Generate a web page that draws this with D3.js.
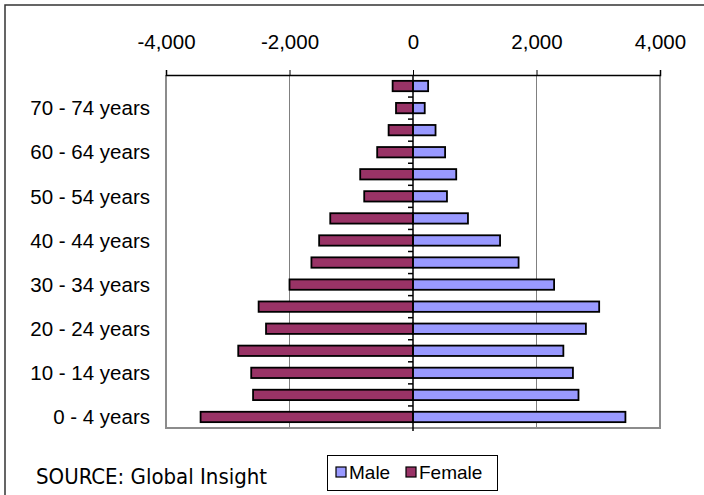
<!DOCTYPE html>
<html>
<head>
<meta charset="utf-8">
<script src="https://cdn.jsdelivr.net/npm/d3@7"></script>
<style>
  html, body { margin: 0; padding: 0; background: #fff; }
  svg { display: block; }
</style>
</head>
<body>
<svg id="chart" width="704" height="495"></svg>
<script>
// Population by age group (thousands), bottom group first
const ageGroups = [
  "0 - 4 years", "5 - 9 years", "10 - 14 years", "15 - 19 years",
  "20 - 24 years", "25 - 29 years", "30 - 34 years", "35 - 39 years",
  "40 - 44 years", "45 - 49 years", "50 - 54 years", "55 - 59 years",
  "60 - 64 years", "65 - 69 years", "70 - 74 years", "75+ years"
];
const maleValues = [3440, 2680, 2590, 2435, 2800, 3015, 2285, 1710,
                    1410, 890, 550, 700, 520, 365, 190, 245];
const femaleValues = [3440, 2590, 2620, 2830, 2380, 2500, 2000, 1645,
                      1520, 1340, 790, 855, 580, 395, 275, 330];
const xTicks = [-4000, -2000, 0, 2000, 4000];
const seriesNames = ["Male", "Female"];
const seriesColors = ["#9999ff", "#993366"];

const svg = d3.select("#chart");
const plot = { left: 166, right: 660, top: 75, bottom: 428 };
const sans = "'Liberation Sans', Arial, sans-serif";

// Chart frame
svg.append("rect")
  .attr("x", 5).attr("y", 5).attr("width", 720).attr("height", 520)
  .attr("fill", "#fff").attr("stroke", "#333").attr("stroke-width", 1.5);

const x = d3.scaleLinear().domain([-4000, 4000]).range([plot.left, plot.right]);
const y = d3.scaleBand().domain(ageGroups.slice().reverse())
  .range([plot.top, plot.bottom]).paddingInner(0.53).paddingOuter(0.265);
const yEdge = d3.scaleBand().domain(ageGroups.slice().reverse())
  .range([plot.top, plot.bottom]);

// Vertical gridlines
svg.append("g").selectAll("line")
  .data(xTicks.filter(v => v !== 0 && Math.abs(v) !== 4000))
  .join("line")
  .attr("x1", d => x(d)).attr("x2", d => x(d))
  .attr("y1", plot.top).attr("y2", plot.bottom)
  .attr("stroke", "#808080").attr("stroke-width", 1);

// Plot area border (left, right, bottom)
svg.append("path")
  .attr("d", `M${plot.left},${plot.top}V${plot.bottom}H${plot.right}V${plot.top}`)
  .attr("fill", "none").attr("stroke", "#8c8c8c").attr("stroke-width", 2);

// Bars: female to the left of zero, male to the right
const bars = svg.append("g");
bars.selectAll("rect.female")
  .data(ageGroups.map((g, i) => ({ g, v: femaleValues[i] })))
  .join("rect").attr("class", "female")
  .attr("x", d => x(-d.v)).attr("width", d => x(0) - x(-d.v))
  .attr("y", d => y(d.g)).attr("height", y.bandwidth())
  .attr("fill", seriesColors[1]).attr("stroke", "#000").attr("stroke-width", 1.8);
bars.selectAll("rect.male")
  .data(ageGroups.map((g, i) => ({ g, v: maleValues[i] })))
  .join("rect").attr("class", "male")
  .attr("x", x(0)).attr("width", d => x(d.v) - x(0))
  .attr("y", d => y(d.g)).attr("height", y.bandwidth())
  .attr("fill", seriesColors[0]).attr("stroke", "#000").attr("stroke-width", 1.8);

// Top value axis
const fmt = d3.format(",");
const xAxis = d3.axisTop(x).tickValues(xTicks).tickSize(5)
  .tickFormat(d => fmt(d).replace("\u2212", "-"));
const gx = svg.append("g").attr("transform", `translate(0,${plot.top})`).call(xAxis);
gx.select(".domain").attr("stroke", "#000").attr("stroke-width", 1.5);
gx.selectAll(".tick line").attr("stroke", "#000");
gx.selectAll(".tick text")
  .attr("font-family", sans)
  .attr("font-size", 20.5).attr("fill", "#000")
  .attr("y", -26).attr("dy", "0");

// Category axis along the zero line
svg.append("line")
  .attr("x1", x(0)).attr("x2", x(0)).attr("y1", plot.top).attr("y2", plot.bottom + 3)
  .attr("stroke", "#000").attr("stroke-width", 1.5);
svg.append("g").selectAll("line")
  .data(ageGroups.slice(0, -1))
  .join("line")
  .attr("x1", x(0) - 5).attr("x2", x(0))
  .attr("y1", d => yEdge(d)).attr("y2", d => yEdge(d))
  .attr("stroke", "#000").attr("stroke-width", 1.5);

// Category labels (every other group)
svg.append("g").selectAll("text")
  .data(ageGroups.filter((g, i) => i % 2 === 0 && i < 15))
  .join("text")
  .attr("x", 150)
  .attr("y", d => yEdge(d) + yEdge.bandwidth() / 2)
  .attr("dy", "0.35em")
  .attr("text-anchor", "end")
  .attr("font-family", sans)
  .attr("font-size", 20.5)
  .text(d => d);

// Source note
svg.append("text")
  .attr("x", 36).attr("y", 484)
  .attr("font-family", "'DejaVu Sans Condensed', 'DejaVu Sans', sans-serif")
  .attr("font-size", 22)
  .text("SOURCE: Global Insight");

// Legend
const legend = svg.append("g");
legend.append("rect")
  .attr("x", 327.5).attr("y", 455.5).attr("width", 170).attr("height", 35)
  .attr("fill", "#fff").attr("stroke", "#000").attr("stroke-width", 1);
const items = [{ x: 336, label: seriesNames[0], c: seriesColors[0] },
               { x: 406, label: seriesNames[1], c: seriesColors[1] }];
items.forEach(it => {
  legend.append("rect")
    .attr("x", it.x).attr("y", 467).attr("width", 10).attr("height", 10)
    .attr("fill", it.c).attr("stroke", "#000").attr("stroke-width", 1.2);
  legend.append("text")
    .attr("x", it.x + 13).attr("y", 472).attr("dy", "0.35em")
    .attr("font-family", sans)
    .attr("font-size", 19)
    .text(it.label);
});
</script>
</body>
</html>
